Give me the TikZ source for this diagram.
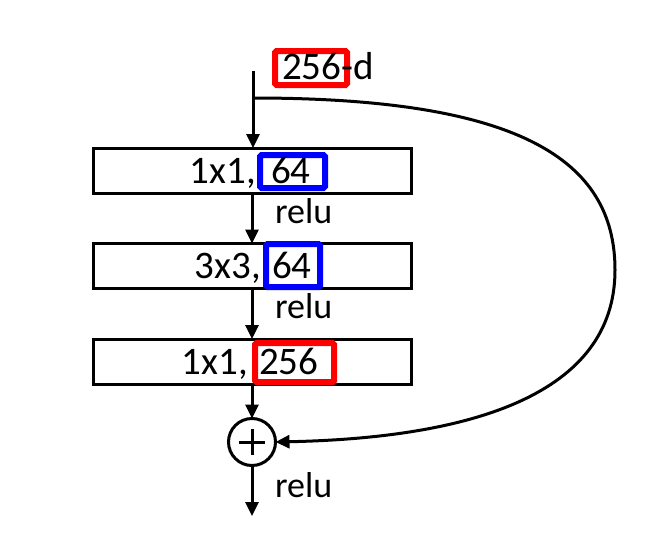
\documentclass[tikz,border=0pt]{standalone}
\usepackage{fontspec}
\setmainfont{Carlito}
\usetikzlibrary{arrows.meta}
\begin{document}
\begin{tikzpicture}[x=1pt,y=-1pt,
  every node/.style={inner sep=0pt,outer sep=0pt},
  txt/.style={font=\fontsize{39}{42}\selectfont},
  lbl/.style={font=\fontsize{36}{39}\selectfont,anchor=base west},
  layer/.style={draw,line width=3pt,minimum width=318pt,minimum height=45pt},
  hlred/.style={draw=red,line width=6pt,rounded corners=1.5pt},
  hlblue/.style={draw=blue,line width=6pt,rounded corners=1.5pt},
  conn/.style={line width=3pt,-{Triangle[length=14pt,width=13pt]}}]
\useasboundingbox (0,0) rectangle (645,554);
% layers
\node[layer] (b1) at (252,170.5) {};
\node[layer] (b2) at (252,266) {};
\node[layer] (b3) at (252,361.5) {};
% highlight boxes
\node[hlred,minimum width=72pt,minimum height=34pt] (hd) at (311,68) {};
\node[hlblue,minimum width=65pt,minimum height=33pt] (h1) at (292.5,171.5) {};
\node[hlblue,minimum width=54pt,minimum height=43pt] (h2) at (293,265.5) {};
\node[hlred,minimum width=79pt,minimum height=39pt] (h3) at (294.5,362.5) {};
% texts
\node[txt,anchor=base west] (dim) at (282,79) {256-d};
\node[txt,anchor=base east] (k1) at (256,183) {1x1,};
\node[txt,anchor=base west] (n1) at (271,183) {64};
\node[txt,anchor=base east] (k2) at (261,278.5) {3x3,};
\node[txt,anchor=base west] (n2) at (272,278.5) {64};
\node[txt,anchor=base east] (k3) at (248,374) {1x1,};
\node[txt,anchor=base west] (n3) at (259,374) {256};
\node[lbl] (r1) at (275,223) {relu};
\node[lbl] (r2) at (275,318) {relu};
\node[lbl] (r3) at (275,497) {relu};
% sum
\node[draw,circle,line width=3pt,minimum size=47pt] (sum) at (252,442) {};
\draw[line width=3pt] ([yshift=-13pt]sum.center) -- ([yshift=13pt]sum.center)
  ([xshift=-13pt]sum.center) -- ([xshift=13pt]sum.center);
% connectors
\coordinate (top) at (253,71);
\coordinate (split) at (253,98);
\coordinate (out) at (252,516);
\draw[conn] (top) -- (b1.north -| top);
\draw[conn] (b1.south) -- (b2.north);
\draw[conn] (b2.south) -- (b3.north);
\draw[conn] (b3.south) -- (sum.north);
\draw[conn] (sum.south) -- (out);
\draw[conn] (split) .. controls (520,98) and (615,160) .. (615,270)
  .. controls (615,395) and (470,438) .. (sum.east);
\end{tikzpicture}
\end{document}
